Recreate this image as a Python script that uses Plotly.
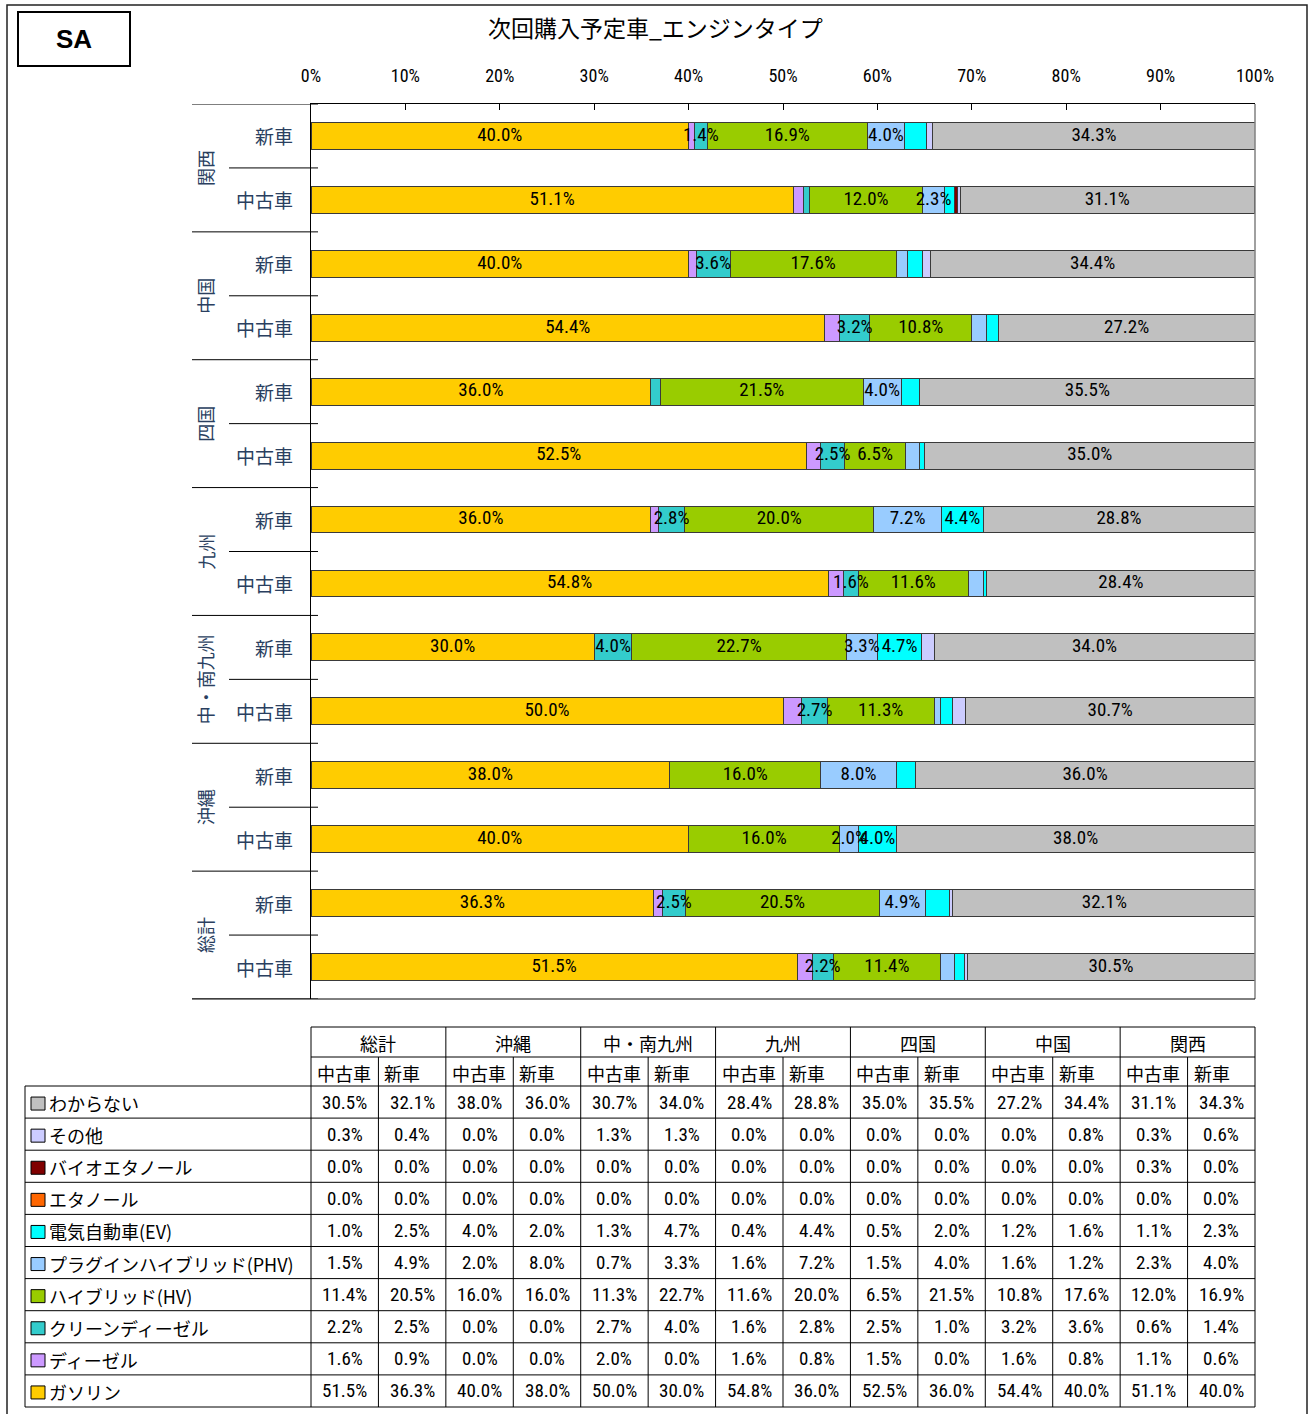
import plotly.graph_objects as go

# ---------------- data ----------------
regions = ["総計", "沖縄", "中・南九州", "九州", "四国", "中国", "関西"]
car_types = ["中古車", "新車"]

# stacked left to right
series_names = ["ガソリン", "ディーゼル", "クリーンディーゼル", "ハイブリッド(HV)",
                "プラグインハイブリッド(PHV)", "電気自動車(EV)", "エタノール",
                "バイオエタノール", "その他", "わからない"]
series_colors = ["#FFCC00", "#CC99FF", "#33CCCC", "#99CC00", "#99CCFF",
                 "#00FFFF", "#FF6600", "#800000", "#CCCCFF", "#C0C0C0"]

# columns: 総計(中古車, 新車), 沖縄(...), 中・南九州, 九州, 四国, 中国, 関西
gasoline = [51.5, 36.3, 40.0, 38.0, 50.0, 30.0, 54.8, 36.0, 52.5, 36.0, 54.4, 40.0, 51.1, 40.0]
diesel = [1.6, 0.9, 0.0, 0.0, 2.0, 0.0, 1.6, 0.8, 1.5, 0.0, 1.6, 0.8, 1.1, 0.6]
clean_diesel = [2.2, 2.5, 0.0, 0.0, 2.7, 4.0, 1.6, 2.8, 2.5, 1.0, 3.2, 3.6, 0.6, 1.4]
hybrid = [11.4, 20.5, 16.0, 16.0, 11.3, 22.7, 11.6, 20.0, 6.5, 21.5, 10.8, 17.6, 12.0, 16.9]
plugin_hybrid = [1.5, 4.9, 2.0, 8.0, 0.7, 3.3, 1.6, 7.2, 1.5, 4.0, 1.6, 1.2, 2.3, 4.0]
electric = [1.0, 2.5, 4.0, 2.0, 1.3, 4.7, 0.4, 4.4, 0.5, 2.0, 1.2, 1.6, 1.1, 2.3]
ethanol = [0.0, 0.0, 0.0, 0.0, 0.0, 0.0, 0.0, 0.0, 0.0, 0.0, 0.0, 0.0, 0.0, 0.0]
bio_ethanol = [0.0, 0.0, 0.0, 0.0, 0.0, 0.0, 0.0, 0.0, 0.0, 0.0, 0.0, 0.0, 0.3, 0.0]
other = [0.3, 0.4, 0.0, 0.0, 1.3, 1.3, 0.0, 0.0, 0.0, 0.0, 0.0, 0.8, 0.3, 0.6]
unknown = [30.5, 32.1, 38.0, 36.0, 30.7, 34.0, 28.4, 28.8, 35.0, 35.5, 27.2, 34.4, 31.1, 34.3]

series_values = [gasoline, diesel, clean_diesel, hybrid, plugin_hybrid,
                 electric, ethanol, bio_ethanol, other, unknown]
# smallest value that gets an in-bar label (None = never labelled)
label_min = [0.0, None, 1.4, 0.0, 2.0, 4.0, None, None, None, 0.0]

x_ticks = [0, 10, 20, 30, 40, 50, 60, 70, 80, 90, 100]
x_tick_text = ["0%", "10%", "20%", "30%", "40%", "50%", "60%", "70%", "80%", "90%", "100%"]

title_text = "次回購入予定車_エンジンタイプ"
badge_text = "SA"

# ---------------- page geometry (pixels) ----------------
W, H = 1309, 1414
PX0, PX1 = 311, 1255      # plot area left / right
PY0, PY1 = 104, 999       # plot area top / bottom

JP = "Noto Sans CJK JP, sans-serif"
NUM = "Roboto Condensed, DejaVu Sans Condensed, Noto Sans CJK JP, sans-serif"


def fx(x):
    return x / W


def fy(y):
    return 1 - y / H


categories = [f"{r} {t}" for r in regions for t in car_types]

fig = go.Figure()
for name, vals, color in zip(series_names, series_values, series_colors):
    fig.add_trace(go.Bar(
        name=name, y=categories, x=vals, orientation="h",
        marker=dict(color=color, line=dict(color="#3a3a3a", width=1)),
        hoverinfo="skip",
    ))

# in-bar value labels, centred on each segment and drawn above all bars
lab_x, lab_y, lab_t = [], [], []
base = [0.0] * len(categories)
for vals, lmin in zip(series_values, label_min):
    for i, v in enumerate(vals):
        if lmin is not None and v > 0 and v >= lmin:
            lab_x.append(base[i] + v / 2)
            lab_y.append(categories[i])
            lab_t.append(f"{v:.1f}%")
        base[i] += v
fig.add_trace(go.Scatter(x=lab_x, y=lab_y, text=lab_t, mode="text",
                         textposition="middle center",
                         textfont=dict(family=NUM, size=19, color="#000000"),
                         hoverinfo="skip", cliponaxis=False))

shapes = []
annotations = []


def hline(x0, x1, y, color="#000000", width=1, yref="paper"):
    yy = y if yref != "paper" else fy(y)
    shapes.append(dict(type="line", xref="paper", yref=yref,
                       x0=fx(x0), x1=fx(x1), y0=yy, y1=yy,
                       line=dict(color=color, width=width)))


def vline(x, y0, y1, color="#000000", width=1):
    shapes.append(dict(type="line", xref="paper", yref="paper",
                       x0=fx(x), x1=fx(x), y0=fy(y0), y1=fy(y1),
                       line=dict(color=color, width=width)))


def text(x, y, s, size=17, xanchor="center", family=JP, color="#000000", **kw):
    annotations.append(dict(x=fx(x), y=fy(y), xref="paper", yref="paper", text=s,
                            showarrow=False, xanchor=xanchor, yanchor="middle",
                            font=dict(family=family, size=size, color=color), **kw))


# outer frame, badge and title
shapes.append(dict(type="rect", xref="paper", yref="paper", x0=fx(7), x1=fx(1307),
                   y0=fy(1430), y1=fy(5), line=dict(color="#222222", width=1.5)))
shapes.append(dict(type="rect", xref="paper", yref="paper", x0=fx(18), x1=fx(130),
                   y0=fy(66), y1=fy(12), line=dict(color="#000000", width=2)))
text(74, 39, f"<b>{badge_text}</b>", size=26, family="Liberation Sans, Arial, sans-serif")
text(655, 27, title_text, size=23)

# plot frame: right and bottom edges
vline(PX1, PY0, PY1, color="#808080", width=1.5)
hline(192, PX1, PY1, color="#000000", width=1)

# category separators and labels
n = len(categories)
for i in range(n + 1):
    if i % 2 == 0:
        hline(192, 318, i - 0.5, yref="y")
    else:
        hline(229, 318, i - 0.5, yref="y")
for gi, r in enumerate(regions):
    annotations.append(dict(x=fx(205), y=2 * gi + 0.5, xref="paper", yref="y", text=r,
                            textangle=-90, showarrow=False, xanchor="center",
                            yanchor="middle", font=dict(family=JP, size=18)))
for i, c in enumerate(categories):
    annotations.append(dict(x=fx(295), y=i, xref="paper", yref="y", text=c.split(" ")[1],
                            showarrow=False, xanchor="right", yanchor="middle",
                            font=dict(family=JP, size=19)))

# ---------------- data table ----------------
T_LEFT = 25
T_TOP = 1027
H1, H2 = 1057, 1086
T_BOTTOM = 1407
col_w = (PX1 - PX0) / (len(regions) * 2)
row_h = (T_BOTTOM - H2) / len(series_names)

hline(PX0, PX1, T_TOP)
hline(PX0, PX1, H1)
for gi, r in enumerate(regions):
    text(PX0 + col_w * (2 * gi + 1), (T_TOP + H1) / 2 + 1, r, size=18)
for gi in range(len(regions) + 1):
    vline(PX0 + 2 * col_w * gi, T_TOP, T_BOTTOM)
for ci in range(len(regions) * 2):
    left = PX0 + col_w * ci
    text(left + 4, (H1 + H2) / 2 + 1, car_types[ci % 2], size=18, xanchor="left")
    if ci % 2 == 1:
        vline(left, H1, T_BOTTOM)

row_order = list(range(len(series_names)))[::-1]
hline(T_LEFT, PX1, H2)
vline(T_LEFT, H2, T_BOTTOM)
for ri, si in enumerate(row_order):
    top = H2 + row_h * ri
    mid = top + row_h / 2
    hline(T_LEFT, PX1, top + row_h)
    shapes.append(dict(type="rect", xref="paper", yref="paper",
                       x0=fx(31), x1=fx(45), y0=fy(mid + 8), y1=fy(mid - 5),
                       fillcolor=series_colors[si], line=dict(color="#000000", width=1)))
    text(47, mid + 1, series_names[si], size=18, xanchor="left")
    for ci, v in enumerate(series_values[si]):
        text(PX0 + col_w * (ci + 0.5), mid, f"{v:.1f}%", size=19, family=NUM)

fig.update_layout(
    width=W, height=H,
    margin=dict(l=0, r=0, t=0, b=0, autoexpand=False),
    paper_bgcolor="#FFFFFF", plot_bgcolor="#FFFFFF",
    barmode="stack", bargap=0.58,
    showlegend=False,
    xaxis=dict(domain=[fx(PX0), fx(PX1)], range=[0, 100], side="top",
               tickvals=x_ticks, ticktext=x_tick_text,
               ticks="inside", ticklen=6, tickcolor="#000000", tickwidth=1,
               showgrid=False, zeroline=False, showline=True, automargin=False,
               linecolor="#000000", linewidth=1, ticklabelstandoff=14,
               tickfont=dict(family=NUM, size=18, color="#000000"), fixedrange=True),
    yaxis=dict(domain=[fy(PY1), fy(PY0)], type="category",
               categoryorder="array", categoryarray=categories,
               range=[-0.5, n - 0.5], showticklabels=False, ticks="",
               showgrid=False, zeroline=False, showline=True, automargin=False,
               linecolor="#000000", linewidth=1, fixedrange=True),
    shapes=shapes,
    annotations=annotations,
)

fig.write_html("out.html")
